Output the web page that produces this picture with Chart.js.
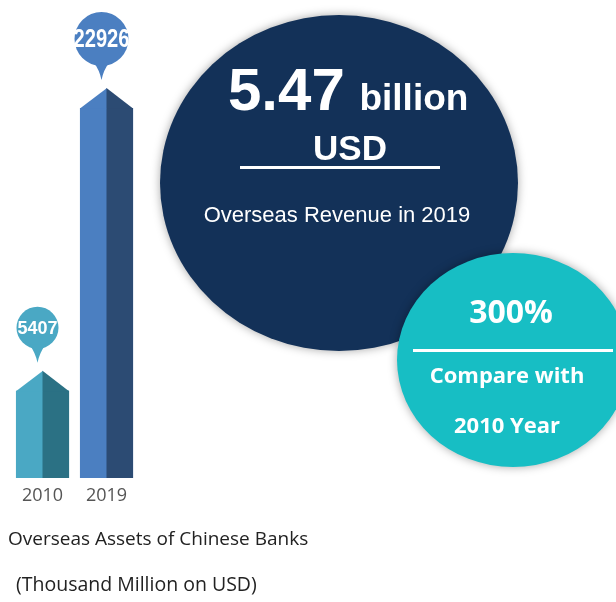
<!DOCTYPE html>
<html>
<head>
<meta charset="utf-8">
<title>Overseas Assets of Chinese Banks</title>
<script src="https://cdn.jsdelivr.net/npm/chart.js@4.4.1/dist/chart.umd.min.js"></script>
<style>
    html, body { margin: 0; padding: 0; background: #ffffff; }
    canvas { display: block; }
</style>
</head>
<body>
<canvas id="overseas-assets" width="616" height="602"></canvas>
<script>
const years = ["2010", "2019"];
const assets = [5407, 22926];
const assetLabels = ["5407", "22926"];

const revenueValue = "5.47";
const revenueUnit = "billion";
const revenueCurrency = "USD";
const revenueCaption = "Overseas Revenue in 2019";

const growthValue = "300%";
const growthCaption = ["Compare with", "2010 Year"];

const chartTitle = ["Overseas Assets of Chinese Banks", "(Thousand Million on USD)"];

// styles
let frontColor = ["#4aa8c4", "#4b7fc1"];
let sideColor = ["#2b7184", "#2c4b73"];
let pinRadius = [21, 27];
let pinFontSize = [18, 25];
let pinShift = -5;
let roofHeight = 20;

const towerPlugin = {
    id: "tower",
    afterDatasetsDraw(chart) {
        let ctx = chart.ctx;
        let bars = chart.getDatasetMeta(0).data;

        bars.forEach((bar, i) => {
            let half = bar.width / 2;
            ctx.save();

            // darker right face
            ctx.fillStyle = sideColor[i];
            ctx.fillRect(bar.x, bar.y, half, bar.base - bar.y);

            // pointed roof
            ctx.beginPath();
            ctx.moveTo(bar.x - half, bar.y + 0.5);
            ctx.lineTo(bar.x + 0.5, bar.y - roofHeight);
            ctx.lineTo(bar.x + 0.5, bar.y + 0.5);
            ctx.closePath();
            ctx.fillStyle = frontColor[i];
            ctx.fill();

            ctx.beginPath();
            ctx.moveTo(bar.x, bar.y + 0.5);
            ctx.lineTo(bar.x, bar.y - roofHeight);
            ctx.lineTo(bar.x + half, bar.y + 0.5);
            ctx.closePath();
            ctx.fillStyle = sideColor[i];
            ctx.fill();

            // value pin
            let px = bar.x + pinShift;
            let tip = bar.y - roofHeight - 8;
            let r = pinRadius[i];
            let cy = tip - r - 14;
            ctx.fillStyle = frontColor[i];
            ctx.beginPath();
            ctx.arc(px, cy, r, 0, Math.PI * 2);
            ctx.fill();
            ctx.beginPath();
            ctx.moveTo(px - 8, cy + r - 4);
            ctx.quadraticCurveTo(px - 2, cy + r + 4, px, tip);
            ctx.quadraticCurveTo(px + 2, cy + r + 4, px + 8, cy + r - 4);
            ctx.closePath();
            ctx.fill();

            ctx.fillStyle = "#ffffff";
            ctx.font = "bold " + pinFontSize[i] + "px 'Liberation Sans', Arial, sans-serif";
            ctx.textAlign = "center";
            ctx.textBaseline = "middle";
            ctx.fillText(assetLabels[i], px, cy + 1, r * 2 + 2);
            ctx.restore();
        });
    },
    afterDraw(chart) {
        let ctx = chart.ctx;
        ctx.save();

        // revenue bubble
        ctx.shadowColor = "rgba(0, 0, 0, 0.35)";
        ctx.shadowBlur = 10;
        ctx.fillStyle = "#133158";
        ctx.beginPath();
        ctx.ellipse(339, 183, 179, 168, 0, 0, Math.PI * 2);
        ctx.fill();

        // growth bubble
        ctx.fillStyle = "#17bec4";
        ctx.beginPath();
        ctx.ellipse(513, 360, 116, 107, 0, 0, Math.PI * 2);
        ctx.fill();
        ctx.shadowColor = "transparent";
        ctx.shadowBlur = 0;

        ctx.fillStyle = "#ffffff";
        ctx.textBaseline = "alphabetic";

        ctx.textAlign = "left";
        ctx.font = "bold 60px 'Liberation Sans', Arial, sans-serif";
        ctx.fillText(revenueValue, 228, 110);
        let w = ctx.measureText(revenueValue + " ").width;
        ctx.font = "bold 37px 'Liberation Sans', Arial, sans-serif";
        ctx.fillText(revenueUnit, 228 + w - 2, 110);

        ctx.textAlign = "center";
        ctx.font = "bold 35px 'Liberation Sans', Arial, sans-serif";
        ctx.fillText(revenueCurrency, 350, 160);
        ctx.fillRect(240, 166, 200, 3);

        ctx.font = "22px 'Liberation Sans', Arial, sans-serif";
        ctx.fillText(revenueCaption, 337, 222);

        ctx.font = "bold 32px 'Open Sans', sans-serif";
        ctx.fillText(growthValue, 511, 323);
        ctx.fillRect(413, 349, 200, 3);
        ctx.font = "bold 22px 'Open Sans', sans-serif";
        ctx.fillText(growthCaption[0], 507, 383);
        ctx.fillText(growthCaption[1], 507, 433);

        // caption under the towers
        ctx.fillStyle = "#222222";
        ctx.textAlign = "left";
        ctx.font = "19px 'Open Sans', sans-serif";
        ctx.fillText(chartTitle[0], 8, 545);
        ctx.font = "19.5px 'Open Sans', sans-serif";
        ctx.fillText(chartTitle[1], 16, 591);

        ctx.restore();
    }
};

function initChart() {
    let ctx = document.getElementById("overseas-assets").getContext("2d");

    new Chart(ctx, {
        type: "bar",
        data: {
            labels: years,
            datasets: [
                {
                    label: "Overseas assets",
                    data: assets,
                    backgroundColor: frontColor,
                    borderWidth: 0,
                    barPercentage: 0.83,
                    categoryPercentage: 1
                }
            ]
        },
        options: {
            responsive: false,
            animation: false,
            layout: {
                padding: { left: 10.5, right: 477.5, top: 60, bottom: 0 }
            },
            plugins: {
                legend: { display: false },
                tooltip: { enabled: false }
            },
            scales: {
                x: {
                    grid: { display: false, drawTicks: false },
                    border: { display: false },
                    ticks: {
                        color: "#555555",
                        padding: 7,
                        font: { family: "'Open Sans', sans-serif", size: 18 }
                    },
                    afterFit: (scale) => {
                        scale.height = 124;
                    }
                },
                y: {
                    display: false,
                    min: 0,
                    max: 25900
                }
            }
        },
        plugins: [towerPlugin]
    });
}

document.addEventListener("DOMContentLoaded", function () {
    initChart();
});
</script>
</body>
</html>
